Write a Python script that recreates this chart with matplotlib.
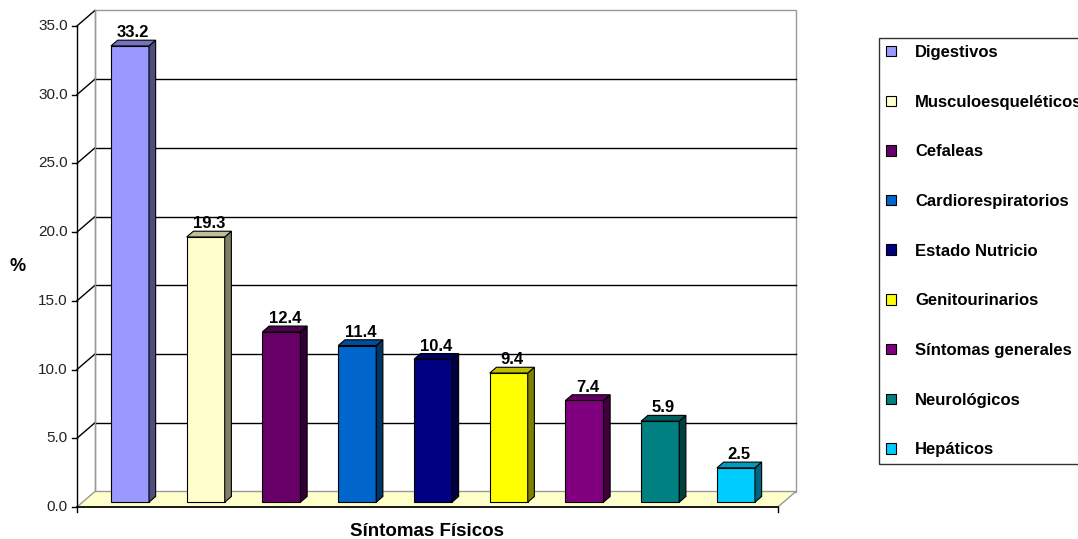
import matplotlib.pyplot as plt
from matplotlib.patches import Polygon, Patch
import numpy as np

plt.rcParams['font.family'] = ['Liberation Sans', 'DejaVu Sans']

categorias = ['Digestivos', 'Musculoesqueléticos', 'Cefaleas', 'Cardiorespiratorios',
              'Estado Nutricio', 'Genitourinarios', 'Síntomas generales',
              'Neurológicos', 'Hepáticos']
porcentajes = [33.2, 19.3, 12.4, 11.4, 10.4, 9.4, 7.4, 5.9, 2.5]
colores = ['#9999FF', '#FFFFCC', '#660066', '#0066CC', '#000080',
           '#FFFF00', '#800080', '#008080', '#00CCFF']
ticks_y = [0, 5, 10, 15, 20, 25, 30, 35]

# escala: px por categoria / px por unidad de %
px_cat = 75.75
px_val = 13.743

# profundidad del grafico 3D (en unidades de datos)
DX = 18 / px_cat
DY = 15.5 / px_val
x_izq, x_der = -0.627, 8.627
y_max = 35
ancho = 38 / px_cat
f_frente = 0.31   # posicion de la cara frontal de las barras
f_barra = 0.37    # grosor de las barras


def oscurecer(c, k):
    rgb = np.array([int(c[i:i + 2], 16) for i in (1, 3, 5)]) / 255
    return tuple(rgb * k)


fig = plt.figure(figsize=(10.78, 5.39), dpi=100)
ax = fig.add_axes([0, 0, 1, 1])
ax.set_xlim(-124.4 / px_cat, (1078 - 124.4) / px_cat)
ax.set_ylim(-32 / px_val, 507 / px_val)
ax.axis('off')

# pared del fondo
pared = Polygon([(x_izq + DX, DY), (x_der + DX, DY), (x_der + DX, y_max + DY),
                 (x_izq + DX, y_max + DY)], closed=True, facecolor='white',
                edgecolor='#999999', lw=1, zorder=1)
ax.add_patch(pared)
for t in ticks_y[1:-1]:
    ax.plot([x_izq + DX, x_der + DX], [t + DY, t + DY], color='black', lw=1, zorder=2)
# pared izquierda
for t in ticks_y[1:]:
    ax.plot([x_izq, x_izq + DX], [t, t + DY], color='black', lw=1, zorder=2)
ax.plot([x_izq + DX, x_izq + DX], [DY, y_max + DY], color='#999999', lw=1, zorder=2)

# piso
piso = Polygon([(x_izq, 0), (x_der, 0), (x_der + DX, DY), (x_izq + DX, DY)],
               closed=True, facecolor='#FFFFCC', edgecolor='#999999', lw=1, zorder=2)
ax.add_patch(piso)

# ejes frontales
tick_x = 5 / px_cat
tick_y = 5 / px_val
ax.plot([x_izq, x_izq], [-tick_y, y_max], color='black', lw=1, zorder=3)
ax.plot([x_izq, x_der], [0, 0], color='black', lw=1.2, zorder=3)
ax.plot([x_der, x_der], [0, -tick_y], color='black', lw=1, zorder=3)
for t in ticks_y:
    ax.plot([x_izq - tick_x, x_izq], [t, t], color='black', lw=1, zorder=3)
    ax.text(x_izq - 9 / px_cat, t, f'{t:.1f}', ha='right', va='center',
            fontsize=11, color='#222222')

# barras
bx, by = f_barra * DX, f_barra * DY
for i, (v, c) in enumerate(zip(porcentajes, colores)):
    x0 = i + f_frente * DX - ancho / 2
    x1 = x0 + ancho
    y0 = f_frente * DY
    y1 = y0 + v
    frente = Polygon([(x0, y0), (x1, y0), (x1, y1), (x0, y1)], closed=True,
                     facecolor=c, edgecolor='black', lw=0.8, zorder=4)
    lado = Polygon([(x1, y0), (x1 + bx, y0 + by), (x1 + bx, y1 + by), (x1, y1)],
                   closed=True, facecolor=oscurecer(c, 0.5), edgecolor='black',
                   lw=0.8, zorder=4)
    tapa = Polygon([(x0, y1), (x1, y1), (x1 + bx, y1 + by), (x0 + bx, y1 + by)],
                   closed=True, facecolor=oscurecer(c, 0.75), edgecolor='black',
                   lw=0.8, zorder=4)
    for p in (frente, lado, tapa):
        ax.add_patch(p)
    ax.text((x0 + x1) / 2 + bx / 2, y1 + by + 3 / px_val, f'{v:.1f}',
            ha='center', va='baseline', fontsize=12, fontweight='bold', zorder=5)

ax.text((x_izq + x_der) / 2, (507 - 532) / px_val, 'Síntomas Físicos',
        ha='center', va='center', fontsize=13.5, fontweight='bold')
ax.text((18 - 124.4) / px_cat, y_max / 2, '%', ha='center', va='center',
        fontsize=13, fontweight='bold')

# leyenda (sale por el borde derecho de la figura)
handles = [Patch(facecolor=c, edgecolor='black', lw=0.8, label=n)
           for n, c in zip(categorias, colores)]
leg = fig.legend(handles=handles, loc='upper left',
                 bbox_to_anchor=(879 / 1078, 1 - 38 / 539), borderaxespad=0,
                 frameon=True, fancybox=False, edgecolor='black',
                 prop={'size': 12, 'weight': 'bold'}, labelspacing=2.08,
                 handlelength=0.6, handleheight=0.6, handletextpad=1.15,
                 borderpad=0.42)
leg.get_frame().set_linewidth(1)

fig.savefig('out.png', dpi=100)
